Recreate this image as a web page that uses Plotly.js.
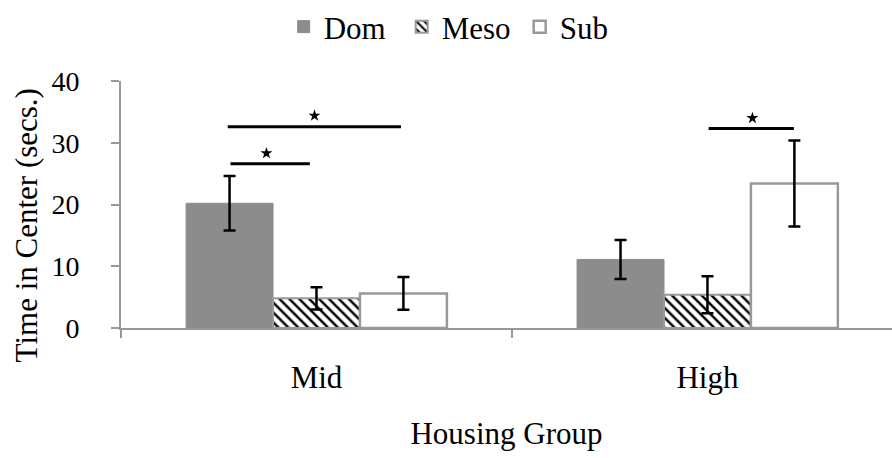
<!DOCTYPE html>
<html>
<head>
<meta charset="utf-8">
<script src="https://cdn.plot.ly/plotly-3.0.1.min.js"></script>
<style>html,body{margin:0;padding:0;background:#fff;}#chart{width:892px;height:458px;}</style>
</head>
<body>
<div id="chart"></div>
<script>
// Data
const categories = ["Mid", "High"];
const seriesNames = ["Dom", "Meso", "Sub"];
const domValues = [20.2, 11.1];
const domErrors = [4.4, 3.15];
const mesoValues = [4.8, 5.4];
const mesoErrors = [1.8, 3.0];
const subValues = [5.6, 23.4];
const subErrors = [2.65, 6.95];
const yTickValues = [0, 10, 20, 30, 40];
const yTitle = "Time in Center (secs.)";
const xTitle = "Housing Group";

// Significance brackets (x in category units: Mid = 0, High = 1; y in data units)
const sigX0 = [-0.22, -0.227, 1.003];
const sigX1 = [-0.017, 0.216, 1.221];
const sigY = [26.6, 32.6, 32.3];
const starX = [-0.128, -0.005, 1.115];
const starY = [28.3, 34.4, 34.0];

const font = "Liberation Serif";
const errStyle = (arr) => ({type: "data", array: arr, visible: true, color: "#000", thickness: 2.5, width: 6});

const traces = [
  {type: "bar", name: seriesNames[0], x: categories, y: domValues,
   marker: {color: "#8c8c8c", line: {color: "#8c8c8c", width: 1}},
   error_y: errStyle(domErrors)},
  {type: "bar", name: seriesNames[1], x: categories, y: mesoValues,
   marker: {color: "#ffffff", line: {color: "#999999", width: 2},
            pattern: {shape: "\\", fgcolor: "#000000", bgcolor: "#ffffff", size: 7, solidity: 0.35}},
   error_y: errStyle(mesoErrors)},
  {type: "bar", name: seriesNames[2], x: categories, y: subValues,
   marker: {color: "#ffffff", line: {color: "#999999", width: 2.5}},
   error_y: errStyle(subErrors)},
  {type: "scatter", mode: "markers", x: starX, y: starY, xaxis: "x2", showlegend: false,
   hoverinfo: "skip", marker: {symbol: "star", size: 9, color: "#000"}}
];

const shapes = sigX0.map((x0, i) => ({
  type: "line", xref: "x2", yref: "y", x0: x0, x1: sigX1[i], y0: sigY[i], y1: sigY[i],
  line: {color: "#000", width: 3}
}));

const layout = {
  width: 892, height: 458,
  margin: {l: 121, r: 0, t: 80, b: 130},
  paper_bgcolor: "#fff", plot_bgcolor: "#fff",
  font: {family: font, color: "#000", size: 28},
  barmode: "group", bargap: 0.333, bargroupgap: 0,
  showlegend: true,
  legend: {orientation: "h", x: 0.211, xanchor: "left", y: 1.22, yanchor: "middle",
           font: {family: font, size: 31, color: "#000"}, itemwidth: 30, tracegroupgap: 0,
           entrywidth: 73, entrywidthmode: "pixels", traceorder: "normal"},
  xaxis: {
    type: "category", range: [-0.5, 1.472], tickson: "boundaries",
    ticks: "outside", ticklen: 8, tickcolor: "#999", tickwidth: 2,
    showline: true, linecolor: "#999", linewidth: 2, showgrid: false, zeroline: false,
    tickfont: {family: font, size: 31, color: "#000"}, ticklabelstandoff: 21,
    title: {text: xTitle, font: {family: font, size: 31, color: "#000"}, standoff: 28},
    automargin: false
  },
  xaxis2: {overlaying: "x", range: [-0.5, 1.472], visible: false, showgrid: false, zeroline: false},
  yaxis: {
    range: [0, 40], tickvals: yTickValues, ticks: "outside", ticklen: 8, tickcolor: "#999", tickwidth: 2,
    showline: true, linecolor: "#999", linewidth: 2, showgrid: false, zeroline: false,
    tickfont: {family: font, size: 28, color: "#000"}, ticklabelstandoff: 26,
    automargin: false
  },
  annotations: [{
    text: yTitle, xref: "paper", yref: "paper", x: -0.122, y: 0.415,
    xanchor: "center", yanchor: "middle", textangle: -90, showarrow: false,
    font: {family: font, size: 31, color: "#000"}
  }],
  shapes: shapes
};

Plotly.newPlot("chart", traces, layout, {displayModeBar: false, staticPlot: true});
</script>
</body>
</html>
